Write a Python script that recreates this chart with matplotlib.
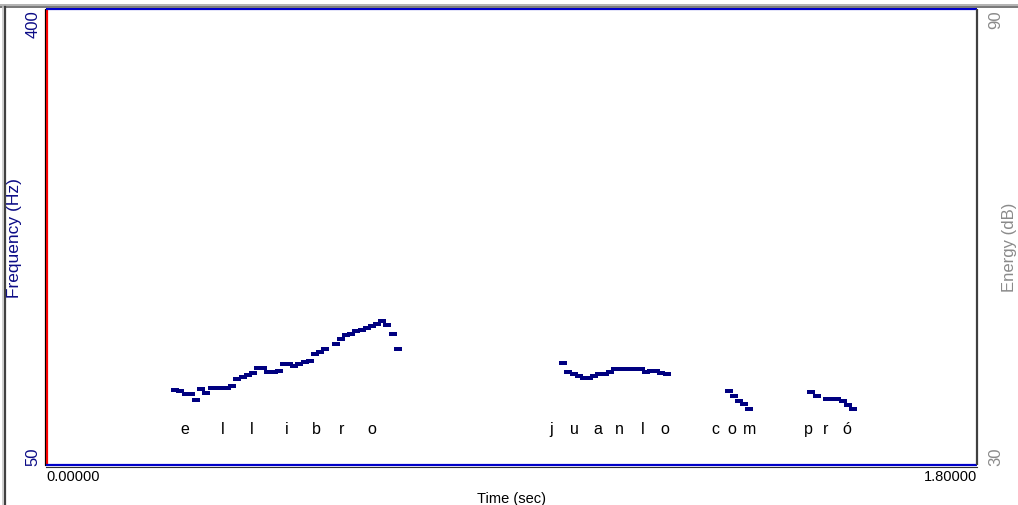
import matplotlib
matplotlib.use("Agg")
import matplotlib.pyplot as plt
import matplotlib.transforms as mtransforms
from matplotlib.lines import Line2D
from matplotlib.patches import Rectangle

plt.rcParams['font.family'] = ['Liberation Sans', 'DejaVu Sans']

# pitch track, one value per 10 ms frame (time in s, F0 in Hz)
t_ellibro = [0.25, 0.26, 0.27, 0.28, 0.29, 0.30, 0.31, 0.32, 0.33, 0.34,
             0.35, 0.36, 0.37, 0.38, 0.39, 0.40, 0.41, 0.42, 0.43, 0.44,
             0.45, 0.46, 0.47, 0.48, 0.49, 0.50, 0.51, 0.52, 0.53, 0.54,
             0.56, 0.57, 0.58, 0.59, 0.60, 0.61, 0.62, 0.63, 0.64, 0.65,
             0.66, 0.67, 0.68]
f_ellibro = [107.2, 107.0, 104.6, 104.6, 100.0, 108.5, 105.4, 109.2, 109.2, 109.2,
             109.2, 110.8, 116.2, 117.7, 119.2, 120.8, 124.6, 124.6, 121.5, 121.5,
             122.3, 127.7, 127.7, 126.2, 127.7, 129.2, 130.0, 135.4, 136.9, 139.2,
             143.1, 146.9, 150.0, 150.8, 153.1, 153.8, 155.4, 156.9, 158.5, 160.8,
             157.7, 150.8, 139.2]
t_juanlo = [1.00, 1.01, 1.02, 1.03, 1.04, 1.05, 1.06, 1.07, 1.08, 1.09,
            1.10, 1.11, 1.12, 1.13, 1.14, 1.15, 1.16, 1.17, 1.18, 1.19, 1.20]
f_juanlo = [128.5, 121.5, 120.0, 118.5, 116.9, 116.9, 118.5, 120.0, 120.0, 121.5,
            123.8, 123.8, 123.8, 123.8, 123.8, 123.8, 121.5, 122.3, 122.3, 120.8, 120.0]
t_com = [1.32, 1.33, 1.34, 1.35, 1.36]
f_com = [106.9, 103.1, 99.2, 96.9, 93.1]
t_pro = [1.48, 1.49, 1.51, 1.52, 1.53, 1.54, 1.55, 1.56]
f_pro = [106.2, 103.1, 100.8, 100.8, 100.8, 99.2, 96.2, 93.1]

# segment labels and their times
seg_labels = ['e', 'l', 'l', 'i', 'b', 'r', 'o',
              'j', 'u', 'a', 'n', 'l', 'o',
              'c', 'o', 'm',
              'p', 'r', 'ó']
seg_times = [0.269, 0.341, 0.397, 0.466, 0.523, 0.571, 0.629,
             0.977, 1.022, 1.066, 1.109, 1.153, 1.196,
             1.295, 1.326, 1.361,
             1.473, 1.508, 1.548]

t_min, t_max = 0.0, 1.8
f_min, f_max = 50, 400
e_min, e_max = 30, 90

navy = '#0b0b86'
grey = '#8a8a8a'

W, H = 1018, 506
fig = plt.figure(figsize=(W / 100, H / 100), dpi=100)
fig.patch.set_facecolor('white')

# window frame: grey strip on top, dark border on the left
fig.add_artist(Rectangle((0, 1 - 9 / H), 1, 4 / H, transform=fig.transFigure,
                         facecolor='#b4b4b4', edgecolor='none'))
fig.add_artist(Line2D([0, 1], [1 - 8 / H, 1 - 8 / H], transform=fig.transFigure,
                      color='#707070', lw=1.2))
fig.add_artist(Line2D([5 / W, 5 / W], [0, 1 - 8 / H], transform=fig.transFigure,
                      color='#404040', lw=1.6))
fig.add_artist(Line2D([3 / W, 3 / W], [0, 1 - 8 / H], transform=fig.transFigure,
                      color='#c8c8c8', lw=1.2))

x0, x1 = 46 / W, 977 / W
y0, y1 = 1 - 466 / H, 1 - 10 / H
ax = fig.add_axes([x0, y0, x1 - x0, y1 - y0])
ax.set_xlim(t_min, t_max)
ax.set_ylim(f_min, f_max)

# rectangular dashes for each pitch frame
dash = [(-1, -0.36), (1, -0.36), (1, 0.36), (-1, 0.36), (-1, -0.36)]
for tt, ff in [(t_ellibro, f_ellibro), (t_juanlo, f_juanlo),
               (t_com, f_com), (t_pro, f_pro)]:
    ax.plot(tt, ff, linestyle='none', marker=dash, markersize=6.4,
            color='#000080', markeredgewidth=0)

trans = mtransforms.blended_transform_factory(ax.transData, ax.transAxes)
for lab, tx in zip(seg_labels, seg_times):
    ax.text(tx, 0.081, lab, transform=trans, ha='center', va='center',
            fontsize=11.5, color='black')

for side in ['left', 'right', 'top', 'bottom']:
    ax.spines[side].set_visible(False)
# plot frame: thin dark outline with coloured inner edges
ax.plot([0, 0], [0, 1], transform=ax.transAxes, color='red', lw=2.3,
        clip_on=False, solid_capstyle='butt')
ax.plot([0, 1], [1, 1], transform=ax.transAxes, color='#0000c8', lw=1.6,
        clip_on=False, solid_capstyle='butt')
ax.plot([0, 1], [0, 0], transform=ax.transAxes, color='#0000c8', lw=1.6,
        clip_on=False, solid_capstyle='butt')
ax.plot([1, 1], [0, 1], transform=ax.transAxes, color='#404040', lw=1.6,
        clip_on=False, solid_capstyle='butt')
fig.add_artist(Line2D([x0 - 1.5 / W, x0 - 1.5 / W], [y0, y1], transform=fig.transFigure,
                      color='black', lw=0.8))
fig.add_artist(Line2D([x0, x1], [y0 - 1.5 / H, y0 - 1.5 / H], transform=fig.transFigure,
                      color='#303030', lw=0.8))

ax.set_xticks([t_min, t_max])
ax.set_xticklabels(['%.5f' % t_min, '%.5f' % t_max], fontsize=10.5)
xt = ax.get_xticklabels()
xt[0].set_horizontalalignment('left')
xt[1].set_horizontalalignment('right')
ax.tick_params(axis='x', length=0, pad=3)
ax.set_xlabel('Time (sec)', fontsize=10.5, labelpad=6)

ax.set_yticks([f_min, f_max])
ax.set_yticklabels([str(f_min), str(f_max)], rotation=90, fontsize=12, color=navy)
yt = ax.get_yticklabels()
yt[0].set_verticalalignment('bottom')
yt[1].set_verticalalignment('top')
ax.tick_params(axis='y', length=0, pad=4)
ax.set_ylabel('Frequency (Hz)', fontsize=12.5, color=navy, va='center')
ax.yaxis.set_label_coords(-31 / 931, 0.5)

ax2 = ax.twinx()
ax2.set_ylim(e_min, e_max)
for side in ['left', 'right', 'top', 'bottom']:
    ax2.spines[side].set_visible(False)
ax2.set_yticks([e_min, e_max])
ax2.set_yticklabels([str(e_min), str(e_max)], rotation=90, fontsize=12, color=grey)
yt2 = ax2.get_yticklabels()
yt2[0].set_verticalalignment('bottom')
yt2[1].set_verticalalignment('top')
ax2.tick_params(axis='y', length=0, pad=8)
ax2.set_ylabel('Energy (dB)', fontsize=12, color=grey, va='center', rotation=90)
ax2.yaxis.set_label_coords(1 + 33 / 931, 0.48)

fig.savefig('out.png', dpi=100)
